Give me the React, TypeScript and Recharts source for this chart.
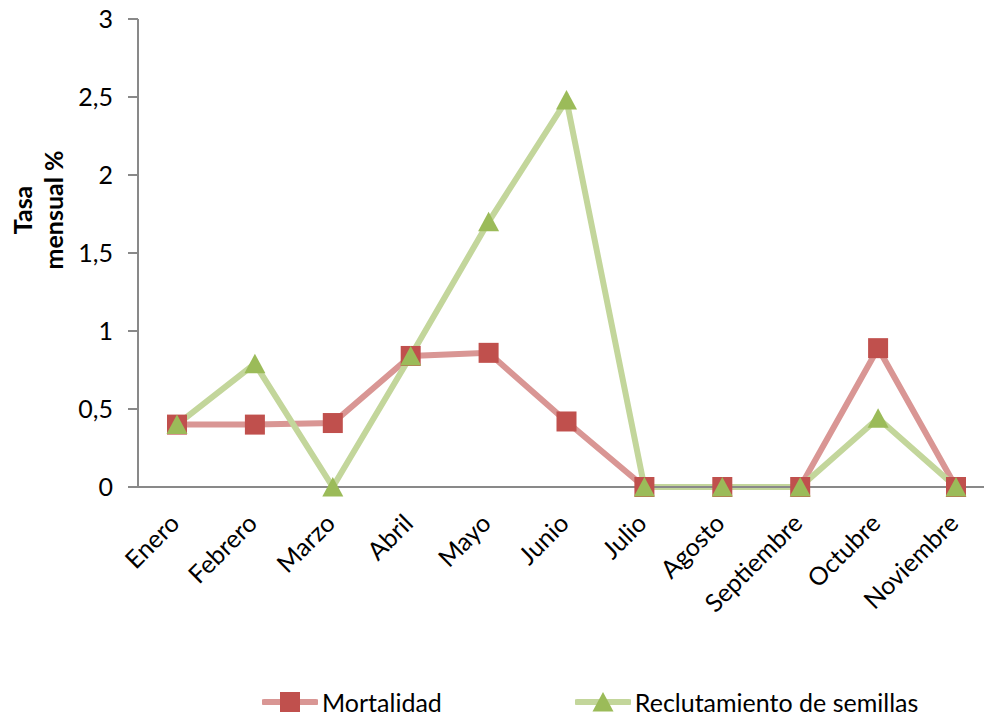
import React from 'react';
import { LineChart, Line, XAxis, YAxis, Legend } from 'recharts';

// Monthly rates (%) per month
const months = ['Enero', 'Febrero', 'Marzo', 'Abril', 'Mayo', 'Junio', 'Julio', 'Agosto', 'Septiembre', 'Octubre', 'Noviembre'];
const mortalidad = [0.4, 0.4, 0.41, 0.84, 0.86, 0.42, 0, 0, 0, 0.89, 0];
const reclutamiento = [0.4, 0.79, 0, 0.84, 1.7, 2.48, 0, 0, 0, 0.44, 0];
const yTicks = [0, 0.5, 1, 1.5, 2, 2.5, 3];
const seriesNames = ['Mortalidad', 'Reclutamiento de semillas'];

const data = months.map((m, i) => ({ mes: m, mortalidad: mortalidad[i], reclutamiento: reclutamiento[i] }));

const FONT = 'Lato, "Noto Sans", sans-serif';
const RED = '#C0504D';
const RED_LINE = '#D99694';
const GREEN = '#9BBB59';
const GREEN_LINE = '#C3D69B';
const AXIS = '#898989';

const SquareDot = (props: any) => {
  const { cx, cy, index } = props;
  if (cx == null || cy == null) return null;
  return <rect key={`sq-${index}`} x={cx - 10} y={cy - 10} width={20} height={20} fill={RED} />;
};

const TriangleDot = (props: any) => {
  const { cx, cy, index } = props;
  if (cx == null || cy == null) return null;
  return (
    <polygon
      key={`tr-${index}`}
      points={`${cx},${cy - 10} ${cx + 10.5},${cy + 9.5} ${cx - 10.5},${cy + 9.5}`}
      fill={GREEN}
    />
  );
};

const MonthTick = (props: any) => {
  const { x, y, payload } = props;
  const bx = x + 4;
  const by = y + 38;
  return (
    <text
      x={bx}
      y={by}
      transform={`rotate(-45, ${bx}, ${by})`}
      textAnchor="end"
      fontFamily={FONT}
      fontSize={25}
      fill="#000"
    >
      {payload.value}
    </text>
  );
};

const YTitle = () => (
  <text transform="translate(0, 210) rotate(-90)" textAnchor="middle" fontFamily={FONT} fontSize={25} fontWeight="bold" fill="#000">
    <tspan x={0} y={32}>Tasa</tspan>
    <tspan x={0} y={63}>mensual %</tspan>
  </text>
);

const LegendContent = () => {
  const items = [
    { name: seriesNames[0], line: RED_LINE, mark: 'square' },
    { name: seriesNames[1], line: GREEN_LINE, mark: 'triangle' },
  ];
  return (
    <div style={{ display: 'flex', alignItems: 'center', paddingLeft: 262, fontFamily: FONT, fontSize: 25, color: '#000' }}>
      {items.map((it, i) => (
        <div key={it.name} style={{ display: 'flex', alignItems: 'center', marginRight: i === 0 ? 133 : 0 }}>
          <svg width={56} height={22} style={{ display: 'block' }}>
            <line x1={2} y1={11} x2={54} y2={11} stroke={it.line} strokeWidth={6} strokeLinecap="round" />
            {it.mark === 'square' ? (
              <rect x={18} y={1} width={20} height={20} fill={RED} />
            ) : (
              <polygon points="28,1 38.5,20.5 17.5,20.5" fill={GREEN} />
            )}
          </svg>
          <span style={{ marginLeft: 4, lineHeight: '24px' }}>{it.name}</span>
        </div>
      ))}
    </div>
  );
};

export default function App() {
  return (
    <div style={{ position: 'absolute', left: 0, top: 0, width: 984, height: 717, overflow: 'hidden', background: '#fff' }}>
      <LineChart width={995} height={717} data={data} margin={{ top: 19, right: 0, bottom: 0, left: 0 }}>
        <XAxis
          dataKey="mes"
          height={206}
          padding={{ left: 39, right: 39 }}
          axisLine={{ stroke: AXIS, strokeWidth: 2 }}
          tickLine={false}
          tickSize={0}
          tickMargin={0}
          interval={0}
          tick={<MonthTick />}
        />
        <YAxis
          width={138}
          domain={[0, 3]}
          ticks={yTicks}
          interval={0}
          axisLine={{ stroke: AXIS, strokeWidth: 2 }}
          tickLine={{ stroke: AXIS, strokeWidth: 2 }}
          tickSize={10}
          tickMargin={15}
          tickFormatter={(v: number) => String(v).replace('.', ',')}
          tick={{ fontFamily: FONT, fontSize: 25, fill: '#000' }}
          label={<YTitle />}
        />
        <Legend
          content={<LegendContent />}
          wrapperStyle={{ position: 'absolute', left: 0, top: 690, width: 984, height: 24 }}
        />
        <Line
          type="linear"
          dataKey="mortalidad"
          name={seriesNames[0]}
          stroke={RED_LINE}
          strokeWidth={6}
          dot={<SquareDot />}
          activeDot={false}
          isAnimationActive={false}
        />
        <Line
          type="linear"
          dataKey="reclutamiento"
          name={seriesNames[1]}
          stroke={GREEN_LINE}
          strokeWidth={6}
          dot={<TriangleDot />}
          activeDot={false}
          isAnimationActive={false}
        />
      </LineChart>
    </div>
  );
}
